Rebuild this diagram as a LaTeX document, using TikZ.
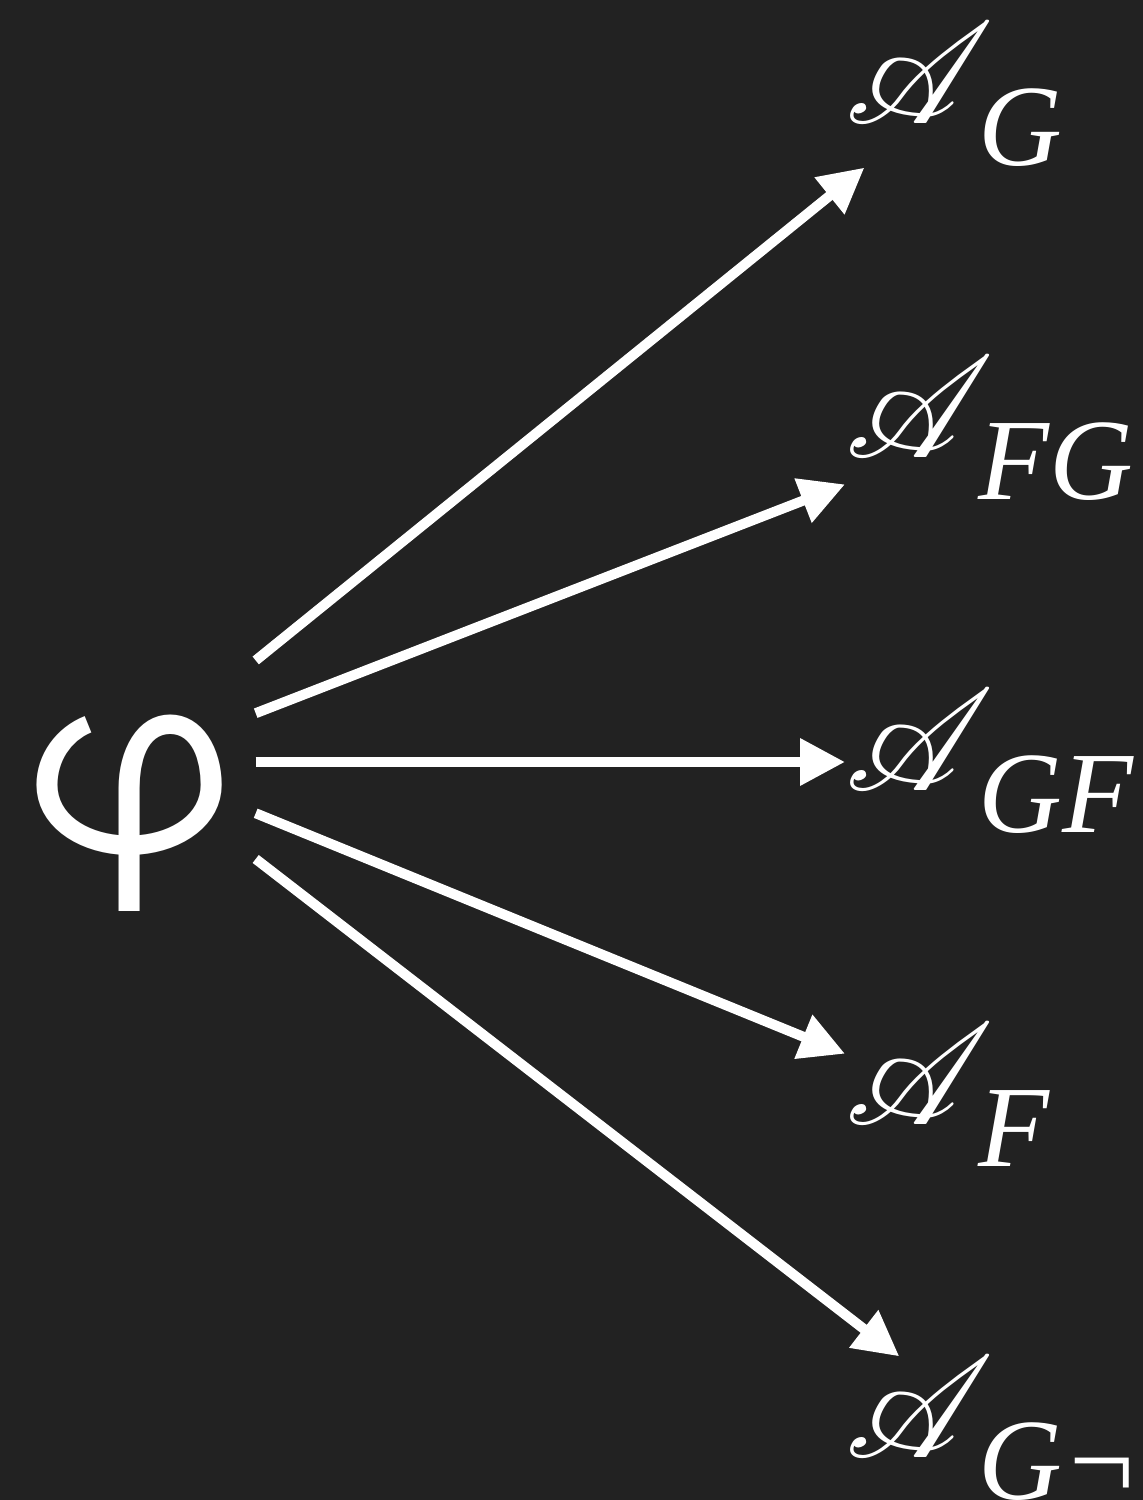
\documentclass[tikz,border=0pt]{standalone}
\usepackage{fontspec}
\usepackage{mathrsfs}
\usepackage{graphicx}
\usetikzlibrary{arrows.meta,positioning}
\newfontfamily\phifont{TeX Gyre Heros}
\newfontfamily\subfont{Liberation Serif}
\definecolor{bgdark}{HTML}{222222}
% script A with a lowered italic index, blown up
\newcommand{\bigauto}[1]{\makebox[1.33cm][l]{\scalebox{4.1}{$\mathscr{A}$}}%
  \raisebox{-0.42cm}{\subfont\itshape\fontsize{33}{36}\selectfont #1}}

\begin{document}
\begin{tikzpicture}[
    lbl/.style={text=white, inner sep=0pt, anchor=west},
    edge/.style={-{Triangle[length=0.45cm,width=0.45cm]}, white, line width=0.1cm}]
  \fill[bgdark] (0,0) rectangle (11.43,15);
  \useasboundingbox (0,0) rectangle (11.43,15);
  \node[text=white, inner sep=0pt, minimum width=2.5cm, text height=2.2cm, text depth=0.38cm,
    font=\phifont\fontsize{73}{76}\selectfont] (phi) at (1.30,7.38) {φ};
  \node[lbl] (aG)  at (8.45,14.05) {\bigauto{G}};
  \node[lbl] (aFG) at (8.45,10.715) {\bigauto{FG}};
  \node[lbl] (aGF) at (8.45,7.38) {\bigauto{GF}};
  \node[lbl] (aF)  at (8.45,4.045) {\bigauto{F}};
  \node[lbl] (aGn) at (8.45,0.71) {\bigauto{G¬}};
  \draw[edge] (phi) -- (aG);
  \draw[edge] (phi) -- (aFG);
  \draw[edge] (phi) -- (aGF);
  \draw[edge] (phi) -- (aF);
  \draw[edge] (phi) -- (aGn);
\end{tikzpicture}
\end{document}
